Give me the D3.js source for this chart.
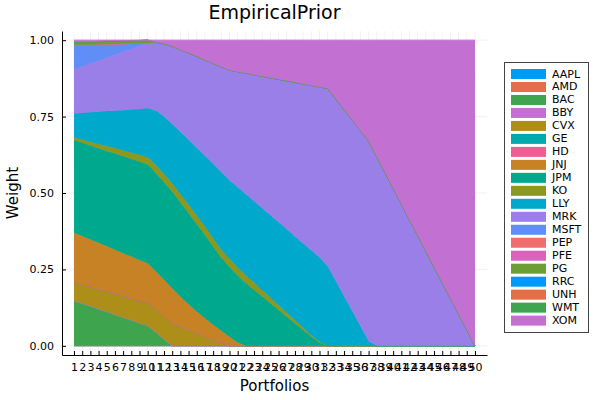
<!DOCTYPE html>
<html><head><meta charset="utf-8">
<script src="https://cdn.jsdelivr.net/npm/d3@7"></script>
<style>body{margin:0;background:#fff}svg{display:block;font-family:"DejaVu Sans",sans-serif}</style>
</head><body><svg id="c" width="600" height="400"></svg>
<script>
const assets = ["AAPL","AMD","BAC","BBY","CVX","GE","HD","JNJ","JPM","KO","LLY","MRK","MSFT","PEP","PFE","PG","RRC","UNH","WMT","XOM"];
const colors = ["#009AFA","#E36F47","#3EA44E","#C271D2","#AC8E18","#00A9AD","#ED5E93","#C68225","#00A98D","#8E971E","#00A8CB","#9B7FE9","#618DF6","#F16C6C","#DC63BD","#6C9F33","#009AFA","#E36F47","#3EA44E","#C271D2"];
const portfolios = d3.range(1, 51);
const yTicks = [0, 0.25, 0.5, 0.75, 1];

const AAPL = [0,0,0,0,0,0,0,0,0,0, 0,0,0,0,0,0,0,0,0,0, 0,0,0,0,0,0,0,0,0,0, 0,0,0,0,0,0,0,0,0,0, 0,0,0,0,0,0,0,0,0,0];
const AMD  = [0,0,0,0,0,0,0,0,0,0, 0,0,0,0,0,0,0,0,0,0, 0,0,0,0,0,0,0,0,0,0, 0,0,0,0,0,0,0,0,0,0, 0,0,0,0,0,0,0,0,0,0];
const BAC  = [.148,.139,.130,.121,.112,.102,.093,.084,.075,.066, .045,.022,0,0,0,0,0,0,0,0, 0,0,0,0,0,0,0,0,0,0, 0,0,0,0,0,0,0,0,0,0, 0,0,0,0,0,0,0,0,0,0];
const BBY  = [0,0,0,0,0,0,0,0,0,0, 0,0,0,0,0,0,0,0,0,0, 0,0,0,0,0,0,0,0,0,0, 0,0,0,0,0,0,0,0,0,0, 0,0,0,0,0,0,0,0,0,0];
const CVX  = [.060,.061,.063,.064,.066,.068,.070,.071,.073,.074, .077,.076,.075,.063,.052,.041,.030,.020,.010,0, 0,0,0,0,0,0,0,0,0,0, 0,0,0,0,0,0,0,0,0,0, 0,0,0,0,0,0,0,0,0,0];
const GE   = [0,0,0,0,0,0,0,0,0,0, 0,0,0,0,0,0,0,0,0,0, 0,0,0,0,0,0,0,0,0,0, 0,0,0,0,0,0,0,0,0,0, 0,0,0,0,0,0,0,0,0,0];
const HD   = [0,0,0,0,0,0,0,0,0,0, 0,0,0,0,0,0,0,0,0,0, 0,0,0,0,0,0,0,0,0,0, 0,0,0,0,0,0,0,0,0,0, 0,0,0,0,0,0,0,0,0,0];
const JNJ  = [.162,.159,.155,.152,.148,.144,.140,.137,.133,.130, .121,.118,.113,.098,.084,.071,.060,.049,.039,.030, .011,0,0,0,0,0,0,0,0,0, 0,0,0,0,0,0,0,0,0,0, 0,0,0,0,0,0,0,0,0,0];
const JPM  = [.303,.305,.307,.309,.311,.315,.317,.319,.321,.323, .322,.319,.316,.308,.298,.286,.273,.256,.238,.228, .219,.205,.183,.161,.139,.117,.095,.073,.051,.030, .010,0,0,0,0,0,0,0,0,0, 0,0,0,0,0,0,0,0,0,0];
const KO   = [.009,.011,.012,.014,.016,.018,.019,.021,.023,.024, .026,.027,.028,.028,.028,.028,.028,.027,.027,.027, .026,.026,.024,.021,.019,.016,.013,.011,.008,.005, .003,0,0,0,0,0,0,0,0,0, 0,0,0,0,0,0,0,0,0,0];
const LLY  = [.078,.087,.097,.106,.115,.122,.132,.141,.150,.160, .179,.188,.193,.203,.212,.221,.230,.243,.254,.257, .263,.265,.266,.268,.269,.271,.273,.274,.276,.277, .276,.260,.211,.162,.113,.064,.015,0,0,0, 0,0,0,0,0,0,0,0,0,0];
const MRK  = [.145,.152,.160,.167,.175,.183,.191,.198,.206,.213, .223,.238,.255,.269,.284,.300,.314,.329,.345,.360, .378,.396,.414,.432,.450,.468,.486,.504,.522,.540, .558,.582,.597,.611,.626,.640,.655,.618,.567,.515, .464,.412,.361,.309,.258,.206,.155,.103,.052,0];
const MSFT = [.079,.071,.061,.053,.044,.035,.026,.018,.008,0, 0,0,0,0,0,0,0,0,0,0, 0,0,0,0,0,0,0,0,0,0, 0,0,0,0,0,0,0,0,0,0, 0,0,0,0,0,0,0,0,0,0];
const PEP  = [0,0,0,0,0,0,0,0,0,0, 0,0,0,0,0,0,0,0,0,0, 0,0,0,0,0,0,0,0,0,0, 0,0,0,0,0,0,0,0,0,0, 0,0,0,0,0,0,0,0,0,0];
const PFE  = [0,0,0,0,0,0,0,0,0,0, 0,0,0,0,0,0,0,0,0,0, 0,0,0,0,0,0,0,0,0,0, 0,0,0,0,0,0,0,0,0,0, 0,0,0,0,0,0,0,0,0,0];
const PG   = [.010,.010,.010,.010,.010,.010,.010,.010,.010,.010, 0,0,0,0,0,0,0,0,0,0, 0,0,0,0,0,0,0,0,0,0, 0,0,0,0,0,0,0,0,0,0, 0,0,0,0,0,0,0,0,0,0];
const RRC  = [0,0,0,0,0,0,0,0,0,0, 0,0,0,0,0,0,0,0,0,0, 0,0,0,0,0,0,0,0,0,0, 0,0,0,0,0,0,0,0,0,0, 0,0,0,0,0,0,0,0,0,0];
const UNH  = [0,0,0,0,0,0,0,0,0,0, 0,0,0,0,0,0,0,0,0,0, 0,0,0,0,0,0,0,0,0,0, 0,0,0,0,0,0,0,0,0,0, 0,0,0,0,0,0,0,0,0,0];
const WMT  = [0,0,0,0,0,0,0,0,0,0, 0,0,0,0,0,0,0,0,0,0, 0,0,0,0,0,0,0,0,0,0, 0,0,0,0,0,0,0,0,0,0, 0,0,0,0,0,0,0,0,0,0];
const XOM  = [.006,.005,.005,.004,.003,.003,.002,.001,.001,0, .007,.012,.020,.031,.042,.053,.065,.076,.087,.098, .103,.108,.113,.118,.123,.128,.133,.138,.143,.148, .153,.158,.192,.227,.261,.296,.330,.382,.433,.485, .536,.588,.639,.691,.742,.794,.845,.897,.948,1.0];

const weights = {AAPL,AMD,BAC,BBY,CVX,GE,HD,JNJ,JPM,KO,LLY,MRK,MSFT,PEP,PFE,PG,RRC,UNH,WMT,XOM};

const svg = d3.select("#c");
const L = 62, R = 487, T = 31, B = 355;
const x = d3.scaleLinear().domain([1 - 1.47, 50 + 1.47]).range([L, R]);
const y = d3.scaleLinear().domain([-0.03, 1.03]).range([B, T]);

// grid
const grid = svg.append("g").attr("stroke", "#000").attr("stroke-opacity", 0.1).attr("stroke-width", 0.6);
portfolios.forEach(p => grid.append("line").attr("x1", x(p)).attr("x2", x(p)).attr("y1", T).attr("y2", B));
yTicks.forEach(t => grid.append("line").attr("x1", L).attr("x2", R).attr("y1", y(t)).attr("y2", y(t)));

// stacked areas
const table = portfolios.map((p, i) => { const r = {p}; assets.forEach(a => r[a] = weights[a][i]); return r; });
const layers = d3.stack().keys(assets)(table);
const area = d3.area().x((d, i) => x(portfolios[i])).y0(d => y(d[0])).y1(d => y(d[1]));
const topLine = d3.line().x((d, i) => x(portfolios[i])).y(d => y(d[1]));
const g = svg.append("g");
layers.forEach((layer, k) => {
  g.append("path").attr("d", area(layer)).attr("fill", colors[k]);
  g.append("path").attr("d", topLine(layer)).attr("fill", "none").attr("stroke", colors[k]).attr("stroke-width", 1);
});

// axes
const xAxis = d3.axisBottom(x).tickValues(portfolios).tickFormat(d3.format("d")).tickSizeInner(-4).tickSizeOuter(0).tickPadding(8);
const gx = svg.append("g").attr("transform", `translate(0,${B})`).call(xAxis);
gx.selectAll("text").attr("font-size", 11).attr("font-family", "DejaVu Sans").attr("fill", "#000");
gx.selectAll("line,path").attr("stroke", "#000");
const yAxis = d3.axisLeft(y).tickValues(yTicks).tickFormat(d3.format(".2f")).tickSizeInner(-4).tickSizeOuter(0).tickPadding(8);
const gy = svg.append("g").attr("transform", `translate(${L},0)`).call(yAxis);
gy.selectAll("text").attr("font-size", 11).attr("font-family", "DejaVu Sans").attr("fill", "#000");
gy.selectAll("line,path").attr("stroke", "#000");

// titles
svg.append("text").attr("x", (L + R) / 2).attr("y", 18.5).attr("text-anchor", "middle").attr("font-size", 19).text("EmpiricalPrior");
svg.append("text").attr("x", (L + R) / 2).attr("y", 391).attr("text-anchor", "middle").attr("font-size", 15).text("Portfolios");
svg.append("text").attr("transform", `translate(18,${(T + B) / 2}) rotate(-90)`).attr("text-anchor", "middle").attr("font-size", 15).text("Weight");

// legend
const lg = svg.append("g");
lg.append("rect").attr("x", 504.5).attr("y", 62.5).attr("width", 84).attr("height", 270).attr("fill", "#fff").attr("stroke", "#444").attr("stroke-width", 1);
assets.forEach((a, i) => {
  const cy = 74 + i * 12.98;
  lg.append("rect").attr("x", 511).attr("y", cy - 5).attr("width", 35).attr("height", 10).attr("fill", colors[i]);
  lg.append("text").attr("x", 552).attr("y", cy).attr("dominant-baseline", "central").attr("font-size", 11).text(a);
});
</script></body></html>
